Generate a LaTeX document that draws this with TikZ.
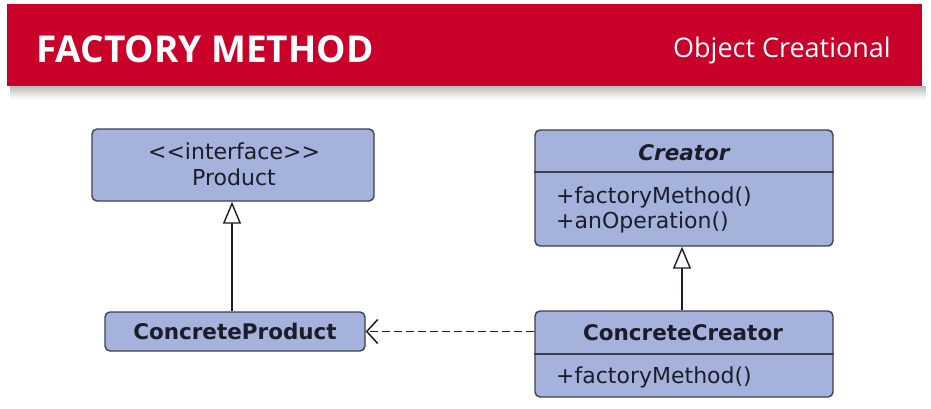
\documentclass[tikz,border=0pt]{standalone}
\usepackage{fontspec}
\setmainfont{Open Sans}
\newfontfamily\umlfont{DejaVu Sans}
\usetikzlibrary{arrows.meta}
\definecolor{hdrred}{RGB}{200,0,42}
\definecolor{boxfill}{RGB}{164,178,220}
\definecolor{boxline}{RGB}{60,64,80}
\definecolor{txt}{RGB}{28,28,42}
\tikzset{
  cls/.style={draw=boxline, line width=1.4pt, fill=boxfill, rounded corners=5pt, inner sep=0pt},
  divider/.style={draw=boxline, line width=1.3pt},
  ctext/.style={text=txt, inner sep=0pt, font=\umlfont\fontsize{22}{26}\selectfont},
  btext/.style={text=txt, inner sep=0pt, font=\umlfont\fontsize{21.5}{26}\selectfont\bfseries},
  inherit/.style={draw=txt, line width=1.4pt, -{Triangle[open,length=22pt,width=18pt,fill=white]}},
  depend/.style={draw=txt, line width=1.5pt, dash pattern=on 8pt off 4pt, -{Straight Barb[length=11pt,width=24pt]}},
}
\begin{document}
\begin{tikzpicture}[x=1pt,y=-1pt]
\useasboundingbox (0,0) rectangle (931,408);
% header shadow
\foreach \i/\o in {0/0.05,2/0.05,4/0.05,6/0.05,8/0.04,10/0.03,12/0.02}{
  \fill[black,opacity=\o] (10,86) rectangle (926,88+\i);
}
\node[fill=hdrred, minimum width=915pt, minimum height=82pt, inner sep=0pt, anchor=north west] (header) at (7,4) {};
\node[text=white, anchor=base west, inner sep=0pt, font=\fontsize{37}{40}\selectfont\bfseries] (title) at (36,62) {FACTORY METHOD};
\node[text=white, anchor=base east, inner sep=0pt, font=\fontsize{27}{30}\selectfont] (kind) at (891,57) {Object Creational};
% Product
\node[cls, minimum width=282pt, minimum height=72pt] (product) at (233,165) {};
\node[ctext, anchor=base] (prodst) at (234,159) {{<}{<}interface{>}{>}};
\node[ctext, anchor=base] (prodname) at (234,185) {Product};
% Creator
\node[cls, minimum width=298pt, minimum height=116pt] (creator) at (684,188) {};
\draw[divider] (creator.west |- 0,172) -- (creator.east |- 0,172);
\node[btext, anchor=base, font=\umlfont\fontsize{21.5}{26}\selectfont\bfseries\itshape] (creatorname) at (684,160) {Creator};
\node[ctext, anchor=base west] (cm1) at (556,203) {+factoryMethod()};
\node[ctext, anchor=base west] (cm2) at (556,228) {+anOperation()};
% ConcreteProduct
\node[cls, minimum width=260pt, minimum height=39pt] (cproduct) at (235,331.5) {};
\node[btext, anchor=base] (cprodname) at (235,339) {ConcreteProduct};
% ConcreteCreator
\node[cls, minimum width=298pt, minimum height=86pt] (ccreator) at (684,354) {};
\draw[divider] (ccreator.west |- 0,354) -- (ccreator.east |- 0,354);
\node[btext, anchor=base] (ccname) at (683,340) {ConcreteCreator};
\node[ctext, anchor=base west] (ccm1) at (556,383) {+factoryMethod()};
% connectors
\draw[inherit] (cproduct.north -| 232,0) -- (product.south -| 232,0);
\draw[inherit] (ccreator.north -| 682,0) -- (creator.south -| 682,0);
\draw[depend] (ccreator.west |- cproduct.east) -- (cproduct.east);
\end{tikzpicture}
\end{document}
